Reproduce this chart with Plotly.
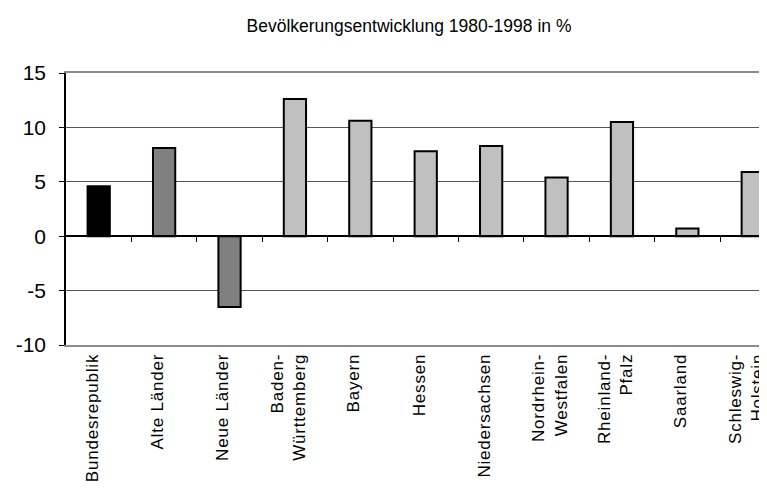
import plotly.graph_objects as go

# Bevoelkerungsentwicklung 1980-1998 in %
regions = [
    "Bundesrepublik", "Alte Länder", "Neue Länder", "Baden-<br>Württemberg",
    "Bayern", "Hessen", "Niedersachsen", "Nordrhein-<br>Westfalen",
    "Rheinland-<br>Pfalz", "Saarland", "Schleswig-<br>Holstein",
]
change_pct = [4.6, 8.1, -6.5, 12.6, 10.6, 7.8, 8.3, 5.4, 10.5, 0.7, 5.9]
level = ["Bund", "Gebiet", "Gebiet", "Land", "Land", "Land", "Land",
         "Land", "Land", "Land", "Land"]
y_ticks = [-10, -5, 0, 5, 10, 15]

level_colors = {"Bund": "#000000", "Gebiet": "#808080", "Land": "#c0c0c0"}
idx = list(range(len(regions)))


def spaced(label):
    # the original category text runs a little wider than plain Arial
    return "<br>".join('<span style="letter-spacing:0.8px">%s</span>' % part
                       for part in label.split("<br>"))


fig = go.Figure()
fig.add_trace(go.Bar(
    x=idx,
    y=change_pct,
    width=0.34,
    marker=dict(color=[level_colors[l] for l in level],
                line=dict(color="#000000", width=2)),
    hoverinfo="y",
))

xr = [-0.5, 10.34]
fig.update_layout(
    width=767, height=495,
    margin=dict(l=58, r=0, t=65, b=158),
    paper_bgcolor="white", plot_bgcolor="white",
    showlegend=False,
    font=dict(family="Liberation Sans, Arial, sans-serif", color="#000000"),
    title=dict(text="Bevölkerungsentwicklung 1980-1998 in %",
               x=401 / 767, xanchor="center", xref="container",
               y=1 - 18 / 495, yref="container", yanchor="middle",
               font=dict(size=17.5, color="#000000")),
    xaxis=dict(
        range=xr,
        # rotated labels sit right of their anchor, pull them back onto the bars
        tickmode="array", tickvals=[i - 0.1 for i in idx],
        ticktext=[spaced(r) for r in regions],
        tickangle=-90, tickfont=dict(size=17),
        ticks="", showgrid=False, zeroline=False,
        showline=True, linecolor="#8c8c8c", linewidth=2, mirror=True,
    ),
    xaxis2=dict(
        overlaying="x", anchor="free", position=0.4, side="bottom",
        range=xr, tickmode="array",
        tickvals=[i + 0.5 for i in idx[:-1]],
        showticklabels=False, ticks="outside", ticklen=5,
        tickcolor="#000000", tickwidth=1,
        showline=True, linecolor="#000000", linewidth=1.5,
        showgrid=False, zeroline=False,
    ),
    yaxis=dict(
        range=[-10, 15], tickmode="array", tickvals=y_ticks,
        ticktext=[str(v) for v in y_ticks],
        tickfont=dict(size=21), ticks="outside", ticklen=5,
        ticklabelstandoff=9,
        tickcolor="#000000", showline=True, linecolor="#000000", linewidth=1.5,
        showgrid=True, gridcolor="#555555", gridwidth=1, zeroline=False,
    ),
)
# invisible helper so the zero-line axis with boundary ticks is drawn
fig.add_trace(go.Scatter(x=[xr[0]], y=[0], xaxis="x2", mode="markers",
                         marker=dict(opacity=0), hoverinfo="skip"))

fig.write_html("out.html")
